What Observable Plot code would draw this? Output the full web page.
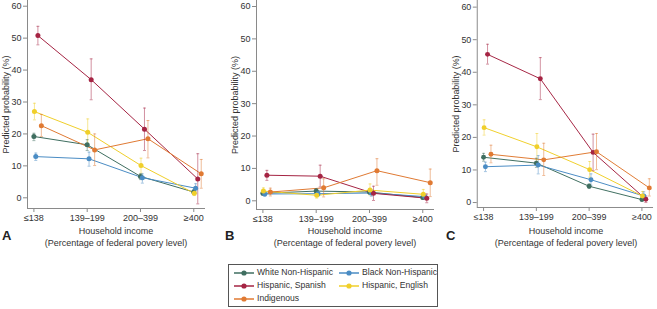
<!DOCTYPE html>
<html><head><meta charset="utf-8">
<script src="https://cdn.jsdelivr.net/npm/d3@7"></script>
<script src="https://cdn.jsdelivr.net/npm/@observablehq/plot@0.6"></script>
<style>
body{margin:0;background:#fff;font-family:"Liberation Sans",Arial,sans-serif;}
#root{position:relative;width:657px;height:309px;overflow:hidden;background:#fff;}
.panel{position:absolute;top:0;}
.xt{position:absolute;font-size:9px;color:#333;text-align:center;line-height:11.5px;white-space:nowrap;}
.letter{position:absolute;font-size:13px;font-weight:bold;color:#222;}
.legend{position:absolute;border:1px solid #555;background:#fff;font-size:8.6px;color:#333;}
.li{position:absolute;white-space:nowrap;line-height:12px;}
.li svg{vertical-align:middle;margin-right:3px;}
</style></head><body><div id="root"></div>
<script>
const incomeLabels = ["≤138", "139–199", "200–399", "≥400"];
const groups = ["White Non-Hispanic", "Black Non-Hispanic", "Hispanic, Spanish", "Hispanic, English", "Indigenous"];
const yTicks = [0, 10, 20, 30, 40, 50, 60];

// Each row: [estimate, lower CI, upper CI] for each income level
const aWhite    = [[19.2, 17.9, 20.2], [16.6, 14.8, 18.2], [6.7, 5.7, 7.5], [1.8, 1.0, 2.6]];
const aBlack    = [[12.9, 11.7, 14.0], [12.2, 9.9, 14.3], [6.3, 4.6, 7.5], [3.0, 1.4, 4.4]];
const aHispSp   = [[50.8, 47.9, 53.7], [37.0, 30.7, 43.5], [21.5, 14.8, 28.1], [5.9, -1.9, 13.8]];
const aHispEn   = [[27.0, 24.4, 29.6], [20.5, 16.6, 24.7], [10.1, 7.7, 12.4], [1.4, 0.7, 2.3]];
const aIndig    = [[22.6, 19.2, 26.1], [15.0, 10.1, 20.0], [18.5, 12.5, 24.2], [7.5, 3.0, 12.0]];

const bWhite    = [[2.3, 1.7, 2.9], [3.0, 2.3, 3.7], [2.7, 2.0, 3.4], [1.0, 0.5, 1.5]];
const bBlack    = [[2.1, 1.4, 2.8], [2.2, 1.4, 3.0], [2.4, 1.4, 3.4], [1.3, 0.5, 2.1]];
const bHispSp   = [[7.9, 6.3, 9.4], [7.6, 4.3, 11.0], [2.3, 0.1, 4.5], [0.8, -0.6, 2.1]];
const bHispEn   = [[3.0, 2.0, 4.0], [1.7, 0.8, 2.8], [3.3, 1.8, 5.2], [2.0, 1.0, 3.5]];
const bIndig    = [[2.7, 1.5, 3.9], [4.0, 1.2, 6.8], [9.3, 4.8, 13.0], [5.6, 1.3, 9.8]];

const cWhite    = [[13.9, 12.7, 15.1], [12.1, 10.8, 13.6], [5.0, 4.3, 5.7], [0.9, 0.4, 1.6]];
const cBlack    = [[11.0, 9.5, 12.4], [11.5, 8.8, 14.4], [7.0, 5.3, 8.8], [2.0, 0.9, 3.3]];
const cHispSp   = [[45.5, 42.5, 48.6], [38.0, 31.6, 44.5], [15.4, 9.8, 21.0], [1.0, 0.0, 2.0]];
const cHispEn   = [[23.0, 20.7, 25.4], [17.1, 13.1, 21.2], [10.1, 7.8, 12.6], [2.0, 0.7, 3.4]];
const cIndig    = [[14.8, 12.2, 17.6], [13.1, 8.3, 18.2], [15.6, 10.1, 21.2], [4.5, 2.0, 7.3]];

// ---------- styling / layout (not data) ----------
const colors = ["#3f6e60", "#4a8cc4", "#a52443", "#f0cf2a", "#e07a33"];
const dodge = [0, 0.035, 0.075, 0.01, 0.14];

const panels = [
  {letter: "A", series: [aWhite, aBlack, aHispSp, aHispEn, aIndig], left: 0, axisY: 208, y0: 197.3, y60: 5.7},
  {letter: "B", series: [bWhite, bBlack, bHispSp, bHispEn, bIndig], left: 229, axisY: 209, y0: 200.3, y60: 6.0},
  {letter: "C", series: [cWhite, cBlack, cHispSp, cHispEn, cIndig], left: 450, axisY: 209, y0: 204, y60: 6.7}
];

const root = document.getElementById("root");
const W = 209, mL = 27, mR = 4, mB = 22;
const xDom = [-0.12, 3.22];

panels.forEach(p => {
  const ppu = (p.y0 - p.y60) / 60;
  const yTop = 60 + p.y60 / ppu;
  const yBot = -(p.axisY - p.y0) / ppu;
  const rows = [];
  p.series.forEach((s, gi) => {
    s.forEach((v, i) => {
      rows.push({g: groups[gi], gi, x: i + dodge[gi], est: v[0], lo: v[1], hi: v[2]});
    });
  });
  const cap = 0.028;
  const plot = Plot.plot({
    width: W,
    height: p.axisY + mB,
    marginLeft: mL, marginRight: mR, marginTop: 0, marginBottom: mB,
    style: {fontFamily: "Liberation Sans, Arial, sans-serif", fontSize: "9px", color: "#333", background: "transparent", overflow: "visible"},
    x: {domain: xDom},
    y: {domain: [yBot, yTop]},
    color: {domain: groups, range: colors},
    marks: [
      Plot.ruleX([xDom[0]], {stroke: "#8a8a8a", strokeWidth: 1}),
      Plot.ruleY([yBot], {stroke: "#8a8a8a", strokeWidth: 1}),
      Plot.axisY(yTicks, {tickSize: 4, tickPadding: 2, stroke: "#8a8a8a", fill: "#333",
        label: "Predicted probability (%)", labelAnchor: "center", labelArrow: "none", labelOffset: 25}),
      Plot.axisX([0, 1, 2, 3], {tickSize: 4, tickPadding: 2, stroke: "#8a8a8a", fill: "#333", label: null, tickFormat: i => incomeLabels[i]}),
      Plot.line(rows, {x: "x", y: "est", z: "g", stroke: "g", strokeWidth: 1}),
      Plot.ruleX(rows, {x: "x", y1: "lo", y2: "hi", stroke: "g", strokeOpacity: 0.5, strokeWidth: 1}),
      Plot.link(rows, {x1: d => d.x - cap, x2: d => d.x + cap, y1: "lo", y2: "lo", stroke: "g", strokeOpacity: 0.5}),
      Plot.link(rows, {x1: d => d.x - cap, x2: d => d.x + cap, y1: "hi", y2: "hi", stroke: "g", strokeOpacity: 0.5}),
      Plot.dot(rows, {x: "x", y: "est", fill: "g", r: 2.5, stroke: "none"})
    ]
  });
  const wrap = document.createElement("div");
  wrap.className = "panel";
  wrap.style.left = p.left + "px";
  wrap.appendChild(plot);
  root.appendChild(wrap);

  const cx = p.left + (mL + W - mR) / 2;
  const t = document.createElement("div");
  t.className = "xt";
  t.style.left = (cx - 100) + "px";
  t.style.width = "200px";
  t.style.top = "226px";
  t.innerHTML = "Household income<br>(Percentage of federal povery level)";
  root.appendChild(t);

  const L = document.createElement("div");
  L.className = "letter";
  L.style.left = (p.left + (p.letter === "A" ? 2 : -4)) + "px";
  L.style.top = "228px";
  L.textContent = p.letter;
  root.appendChild(L);
});

// legend
const lg = document.createElement("div");
lg.className = "legend";
Object.assign(lg.style, {left: "228px", top: "264px", width: "208px", height: "41px"});
const pos = [[5, 1], [110, 1], [5, 14], [110, 14], [5, 27]];
groups.forEach((g, i) => {
  const d = document.createElement("div");
  d.className = "li";
  d.style.left = pos[i][0] + "px";
  d.style.top = pos[i][1] + "px";
  d.innerHTML = `<svg width="20" height="8"><line x1="0" y1="4" x2="20" y2="4" stroke="${colors[i]}" stroke-width="1.5"/><circle cx="10" cy="4" r="2.6" fill="${colors[i]}"/></svg>${g}`;
  lg.appendChild(d);
});
root.appendChild(lg);
</script></body></html>
